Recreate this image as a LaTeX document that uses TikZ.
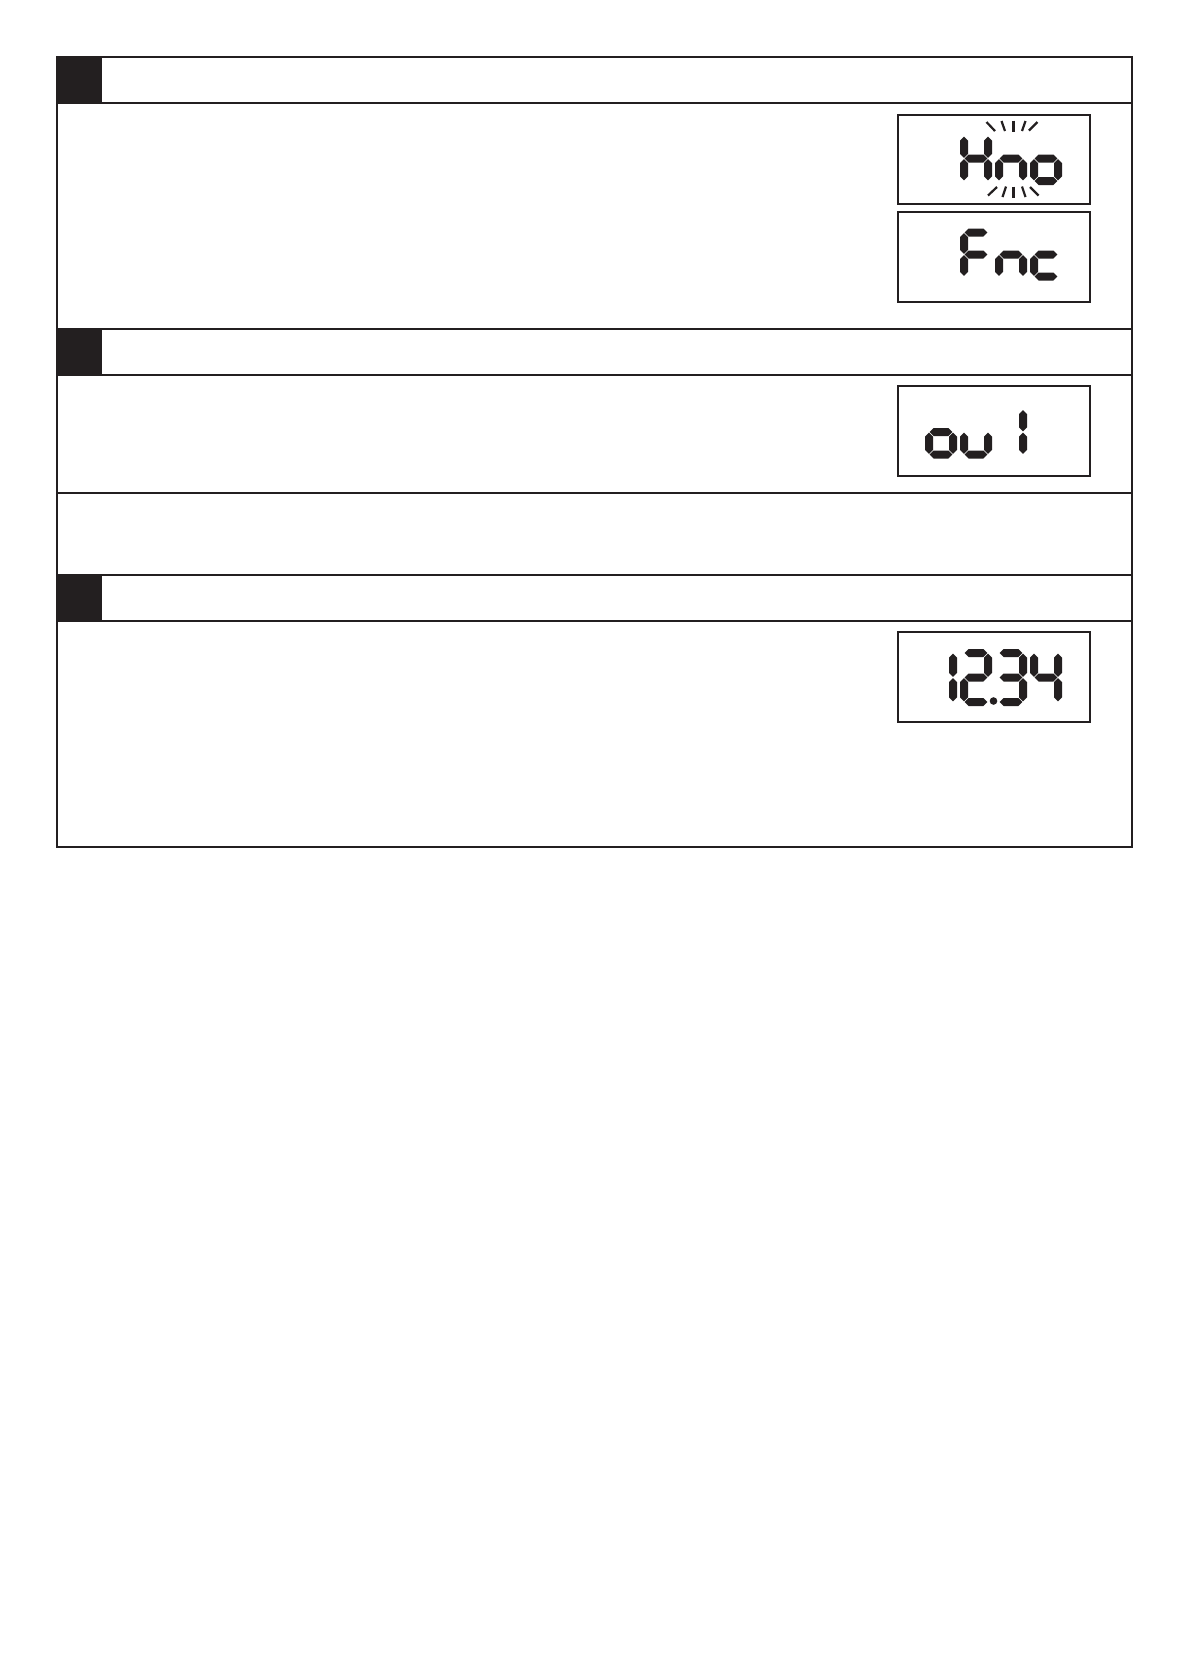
\documentclass[tikz,border=0pt]{standalone}
\usepackage{xcolor}
\usepackage{tikz}
\definecolor{lcdink}{HTML}{231F20}

\newcommand{\hseg}[3]{\fill[lcd] (#1+0.6,#3) -- (#1+4.6,#3-4) -- (#2-4.6,#3-4) -- (#2-0.6,#3) -- (#2-4.6,#3+4) -- (#1+4.6,#3+4) -- cycle;}
\newcommand{\vseg}[3]{\fill[lcd] (#1,#2+0.6) -- (#1+4,#2+4.6) -- (#1+4,#3-4.6) -- (#1,#3-0.6) -- (#1-4,#3-4.6) -- (#1-4,#2+4.6) -- cycle;}
\newcommand{\lcdsega}[3]{\hseg{#1}{#1+24}{#2-#3}}
\newcommand{\lcdsegb}[3]{\vseg{#1+24}{#2-#3}{#2}}
\newcommand{\lcdsegc}[3]{\vseg{#1+24}{#2}{#2+#3}}
\newcommand{\lcdsegd}[3]{\hseg{#1}{#1+24}{#2+#3}}
\newcommand{\lcdsege}[3]{\vseg{#1}{#2}{#2+#3}}
\newcommand{\lcdsegf}[3]{\vseg{#1}{#2-#3}{#2}}
\newcommand{\lcdsegg}[3]{\hseg{#1}{#1+24}{#2}}
\newcommand{\lcddigit}[4]{\foreach \s in {#4}{\csname lcdseg\s\endcsname{#1}{#2}{#3}}}

\begin{document}
\begin{tikzpicture}[x=0.5pt,y=-0.5pt,
    frame/.style={draw=lcdink,line width=1pt},
    rule/.style={draw=lcdink,line width=0.55pt},
    tab/.style={fill=lcdink},
    lcdbox/.style={draw=lcdink,line width=0.55pt},
    lcd/.style={fill=lcdink},
    flash/.style={draw=lcdink,line width=1.1pt}]
			\fill[white] (0,0) rectangle (1191,1678);
			\useasboundingbox (0,0) rectangle (1191,1678);
			\fill[tab] (57,57) rectangle (102,103);
			\fill[tab] (57,329) rectangle (102,375);
			\fill[tab] (57,575) rectangle (102,621);
			\draw[rule] (57,103) -- (1132,103);
			\draw[rule] (57,329) -- (1132,329);
			\draw[rule] (57,375) -- (1132,375);
			\draw[rule] (57,493) -- (1132,493);
			\draw[rule] (57,575) -- (1132,575);
			\draw[rule] (57,621) -- (1132,621);
			\draw[frame] (57,57) rectangle (1132,847);
			\draw[lcdbox] (898,115) rectangle (1090,204);
			\draw[lcdbox] (898,212) rectangle (1090,302);
			\draw[lcdbox] (898,386) rectangle (1090,476);
			\draw[lcdbox] (898,632) rectangle (1090,722);
			\lcddigit{964}{158.5}{22.5}{b,c,e,f,g}
			\lcddigit{999}{158.5}{22.5}{c,e,g}
			\lcddigit{1034}{158.5}{22.5}{c,d,e,g}
			\draw[flash] (986.5,122) -- (995,131);
			\draw[flash] (1001.5,121) -- (1005,131);
			\draw[flash] (1013.5,120.5) -- (1013.5,131.5);
			\draw[flash] (1025.5,121) -- (1022,131);
			\draw[flash] (1037.5,122) -- (1029,130.5);
			\draw[flash] (997,187) -- (988,195.5);
			\draw[flash] (1006,186.5) -- (1002.5,197);
			\draw[flash] (1013.5,186.5) -- (1013.5,197.5);
			\draw[flash] (1022,186.5) -- (1025.5,197);
			\draw[flash] (1030,187) -- (1038.5,195.5);
			\lcddigit{964}{254.5}{22}{a,e,f,g}
			\lcddigit{999}{254.5}{22}{c,e,g}
			\lcddigit{1034}{254.5}{22}{d,e,g}
			\lcddigit{929}{432}{22.5}{c,d,e,g}
			\lcddigit{964}{432}{22.5}{c,d,e}
			\lcddigit{999}{432}{22.5}{b,c}
			\lcddigit{929}{677.5}{24.5}{b,c}
			\lcddigit{964}{677.5}{24.5}{a,b,g,e,d}
			\fill[lcd] (993.5,701) circle (3.8);
			\lcddigit{999}{677.5}{24.5}{a,b,g,c,d}
			\lcddigit{1034}{677.5}{24.5}{f,g,b,c}
		\end{tikzpicture}
\end{document}
